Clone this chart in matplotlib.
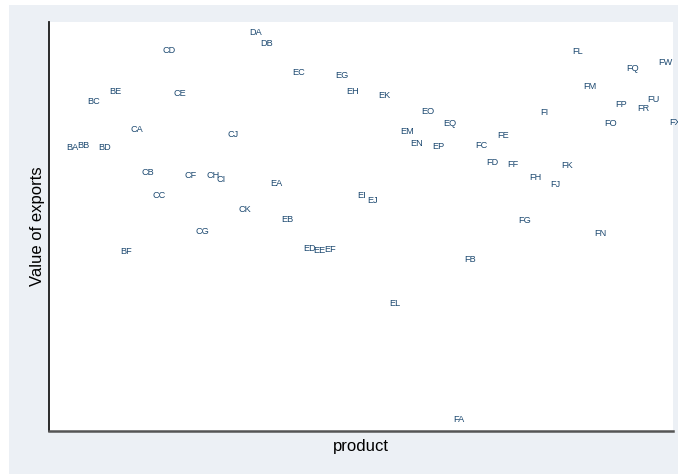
import matplotlib
matplotlib.use("Agg")
import matplotlib.pyplot as plt
from matplotlib.patches import Rectangle

# Product codes in sort order along the x axis
products = [
    "BA", "BB", "BC", "BD", "BE", "BF",
    "CA", "CB", "CC", "CD", "CE", "CF", "CG", "CH", "CI", "CJ", "CK",
    "DA", "DB",
    "EA", "EB", "EC", "ED", "EE", "EF", "EG", "EH", "EI", "EJ", "EK",
    "EL", "EM", "EN", "EO", "EP", "EQ",
    "FA", "FB", "FC", "FD", "FE", "FF", "FG", "FH", "FI", "FJ", "FK",
    "FL", "FM", "FN", "FO", "FP", "FQ", "FR", "FU", "FW", "FX",
]

# Value of exports for each product
export_values = [
    68.7, 69.2, 79.7, 68.7, 82.2, 43.4,
    72.9, 62.5, 57.0, 92.0, 81.7, 61.9, 48.3, 61.8, 60.8, 71.7, 53.5,
    96.4, 93.7,
    60.0, 51.2, 86.8, 44.1, 43.7, 43.9, 86.1, 82.2, 56.9, 55.9, 81.3,
    30.8, 72.6, 69.7, 77.3, 68.9, 74.4,
    2.7, 41.5, 69.2, 64.9, 71.6, 64.5, 51.0, 61.3, 77.2, 59.7, 64.2,
    91.9, 83.5, 47.7, 74.4, 79.0, 87.7, 78.1, 80.2, 89.2, 74.7,
]

W, H = 678, 474
fig = plt.figure(figsize=(W / 100, H / 100), dpi=100, facecolor="white")

# Graph region background, kept behind the axes
bg = Rectangle((9 / W, 0), 1 - 9 / W, (H - 5) / H,
               transform=fig.transFigure, facecolor="#ecf0f5",
               edgecolor="none", zorder=-10)
fig.patches.append(bg)

left, right = 49 / W, 672.7 / W
bottom, top = (H - 431) / H, (H - 22) / H
ax = fig.add_axes([left, bottom, right - left, top - bottom])
ax.set_zorder(1)
ax.set_facecolor("white")

x_pos = list(range(len(products)))
# invisible markers; each product is shown only by its label
ax.scatter(x_pos, export_values, s=0, alpha=0)
for xi, yi, name in zip(x_pos, export_values, products):
    ax.text(xi, yi, name, ha="left", va="center", fontsize=6.6,
            family="Liberation Sans", color="#1a476f", clip_on=False)

ax.set_xlim(-1.58, 56.33)
ax.set_ylim(0, 99.0)
ax.set_xticks([])
ax.set_yticks([])

for side in ("top", "right"):
    ax.spines[side].set_visible(False)
ax.spines["left"].set_color("#1a1a1a")
ax.spines["left"].set_linewidth(1.3)
ax.spines["bottom"].set_color("#555555")
ax.spines["bottom"].set_linewidth(1.8)

ax.set_xlabel("product", fontsize=12, family="Liberation Sans", labelpad=6)
ax.set_ylabel("Value of exports", fontsize=12, family="Liberation Sans", labelpad=3)

fig.savefig("out.png", dpi=100, facecolor=fig.get_facecolor())
